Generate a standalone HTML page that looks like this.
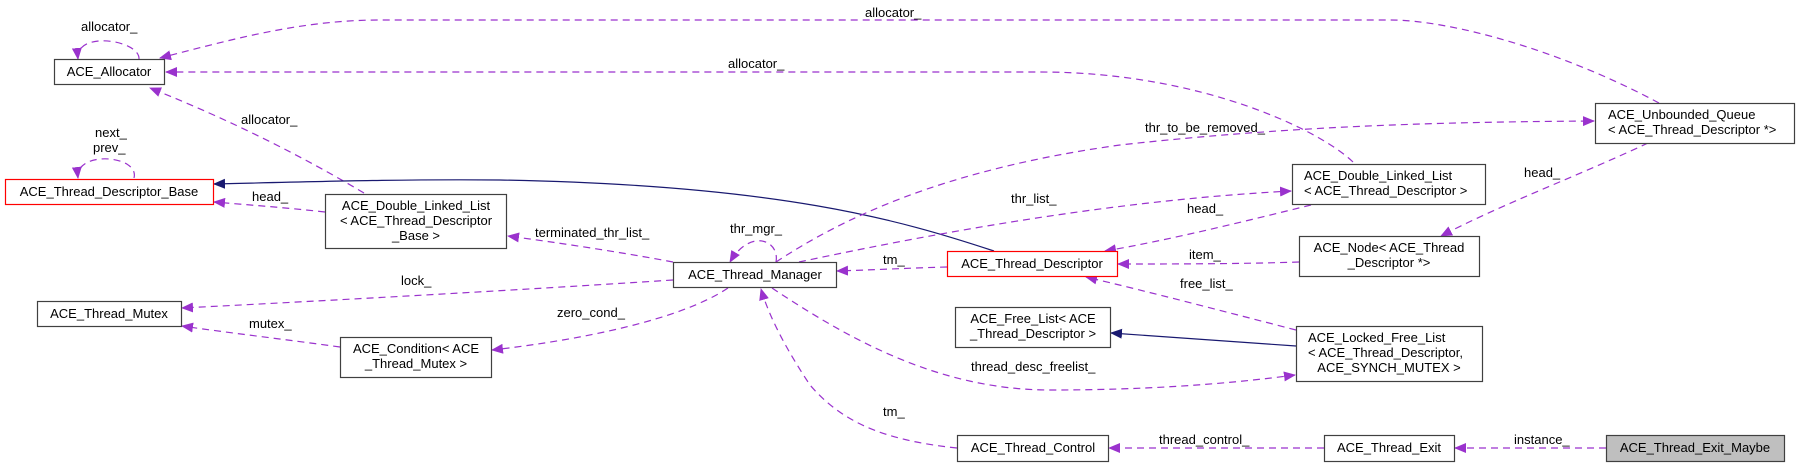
<!DOCTYPE html>
<html><head><meta charset="utf-8"><style>
body{margin:0;background:#fff;}
svg{display:block;font-family:"Liberation Sans",Arial,sans-serif;font-size:13px;}
.n{fill:#fff;stroke:#404040;stroke-width:1.2}
.r{fill:#fff;stroke:#ff0000;stroke-width:1.2}
.p{fill:none;stroke:#9a32cd;stroke-width:1.2;stroke-dasharray:7,5;marker-end:url(#ap)}
.b{fill:none;stroke:#191970;stroke-width:1.2;marker-end:url(#ab)}
text{fill:#000}
</style></head><body>
<svg width="1799" height="467" viewBox="0 0 1799 467">
<defs>
<marker id="ap" markerWidth="12" markerHeight="10" refX="11" refY="5" orient="auto" markerUnits="userSpaceOnUse"><path d="M0,0 L12,5 L0,10 z" fill="#9a32cd"/></marker>
<marker id="ab" markerWidth="12" markerHeight="10" refX="11" refY="5" orient="auto" markerUnits="userSpaceOnUse"><path d="M0,0 L12,5 L0,10 z" fill="#191970"/></marker>
</defs>
<!-- edges -->
<path class="p" d="M1659,103 C1560,50 1450,20 1390,20 L380,20 C300,20 230,40 160,58"/>
<path class="p" d="M1353,162 C1320,130 1200,72 1040,72 L166,72"/>
<path class="p" d="M364,193 C300,155 230,120 150,88"/>
<path class="p" d="M139,59 C140,40 75,30 78,59"/>
<path class="p" d="M134,178 C140,155 75,150 78,178"/>
<path class="b" d="M994,251 C900,220 780,185 500,180 C400,179 300,182 214,184"/>
<path class="p" d="M325,212 C290,208 250,205 214,202"/>
<path class="p" d="M673,262 C620,252 560,243 508,236"/>
<path class="p" d="M673,280 C520,290 340,300 182,308"/>
<path class="p" d="M340,347 C290,340 230,333 182,326"/>
<path class="p" d="M728,288 C680,320 580,340 492,350"/>
<path class="p" d="M776,262 C780,240 750,228 730,262"/>
<path class="p" d="M947,267 C910,268 870,270 837,271"/>
<path class="p" d="M776,262 C840,220 940,170 1120,145 C1300,125 1450,122 1594,121"/>
<path class="p" d="M799,262 C950,230 1120,200 1291,191"/>
<path class="p" d="M1311,205 C1250,220 1170,240 1105,251"/>
<path class="p" d="M1299,262 C1240,264 1170,264 1118,264"/>
<path class="p" d="M1296,330 C1230,313 1150,292 1086,277"/>
<path class="b" d="M1296,346 C1230,341 1170,337 1111,333"/>
<path class="p" d="M772,288 C850,340 940,390 1050,390 C1140,390 1220,385 1295,375"/>
<path class="p" d="M957,448 C880,440 840,420 810,385 C790,355 770,320 761,289"/>
<path class="p" d="M1324,448 L1109,448"/>
<path class="p" d="M1606,448 L1455,448"/>
<path class="p" d="M1648,143 C1580,175 1500,205 1441,236"/>
<!-- edge labels -->
<text x="865" y="17">allocator_</text>
<text x="728" y="68">allocator_</text>
<text x="241" y="124">allocator_</text>
<text x="81" y="31">allocator_</text>
<text x="95" y="137">next_</text>
<text x="93" y="152">prev_</text>
<text x="252" y="201">head_</text>
<text x="535" y="237">terminated_thr_list_</text>
<text x="401" y="285">lock_</text>
<text x="249" y="328">mutex_</text>
<text x="557" y="317">zero_cond_</text>
<text x="730" y="233">thr_mgr_</text>
<text x="883" y="264">tm_</text>
<text x="1145" y="132">thr_to_be_removed_</text>
<text x="1011" y="203">thr_list_</text>
<text x="1187" y="213">head_</text>
<text x="1189" y="259">item_</text>
<text x="1180" y="288">free_list_</text>
<text x="971" y="371">thread_desc_freelist_</text>
<text x="883" y="416">tm_</text>
<text x="1159" y="444">thread_control_</text>
<text x="1514" y="444">instance_</text>
<text x="1524" y="177">head_</text>
<!-- nodes -->
<rect class="n" x="54.5" y="59.5" width="110" height="25"/><text x="109" y="76" text-anchor="middle">ACE_Allocator</text>
<rect class="r" x="5.5" y="179.5" width="208" height="25"/><text x="109" y="196" text-anchor="middle">ACE_Thread_Descriptor_Base</text>
<rect class="n" x="325.5" y="194.5" width="181" height="54"/><text x="416" y="210" text-anchor="middle">ACE_Double_Linked_List</text><text x="416" y="225" text-anchor="middle">&lt; ACE_Thread_Descriptor</text><text x="416" y="240" text-anchor="middle">_Base &gt;</text>
<rect class="n" x="37.5" y="301.5" width="144" height="25"/><text x="109" y="318" text-anchor="middle">ACE_Thread_Mutex</text>
<rect class="n" x="340.5" y="337.5" width="151" height="40"/><text x="416" y="353" text-anchor="middle">ACE_Condition&lt; ACE</text><text x="416" y="368" text-anchor="middle">_Thread_Mutex &gt;</text>
<rect class="n" x="673.5" y="262.5" width="163" height="25"/><text x="755" y="279" text-anchor="middle">ACE_Thread_Manager</text>
<rect class="r" x="947.5" y="251.5" width="170" height="25"/><text x="1032" y="268" text-anchor="middle">ACE_Thread_Descriptor</text>
<rect class="n" x="955.5" y="307.5" width="155" height="40"/><text x="1033" y="323" text-anchor="middle">ACE_Free_List&lt; ACE</text><text x="1033" y="338" text-anchor="middle">_Thread_Descriptor &gt;</text>
<rect class="n" x="957.5" y="435.5" width="151" height="26"/><text x="1033" y="452" text-anchor="middle">ACE_Thread_Control</text>
<rect class="n" x="1595.5" y="103.5" width="199" height="40"/><text x="1608" y="119">ACE_Unbounded_Queue</text><text x="1608" y="134">&lt; ACE_Thread_Descriptor *&gt;</text>
<rect class="n" x="1292.5" y="164.5" width="193" height="40"/><text x="1304" y="180">ACE_Double_Linked_List</text><text x="1304" y="195">&lt; ACE_Thread_Descriptor &gt;</text>
<rect class="n" x="1299.5" y="236.5" width="180" height="40"/><text x="1389" y="252" text-anchor="middle">ACE_Node&lt; ACE_Thread</text><text x="1389" y="267" text-anchor="middle">_Descriptor *&gt;</text>
<rect class="n" x="1296.5" y="326.5" width="186" height="55"/><text x="1308" y="342">ACE_Locked_Free_List</text><text x="1308" y="357">&lt; ACE_Thread_Descriptor,</text><text x="1389" y="372" text-anchor="middle">ACE_SYNCH_MUTEX &gt;</text>
<rect class="n" x="1324.5" y="435.5" width="130" height="26"/><text x="1389" y="452" text-anchor="middle">ACE_Thread_Exit</text>
<rect x="1606.5" y="435.5" width="178" height="26" fill="#bfbfbf" stroke="#404040" stroke-width="1.2"/><text x="1695" y="452" text-anchor="middle">ACE_Thread_Exit_Maybe</text>
</svg>
</body></html>
